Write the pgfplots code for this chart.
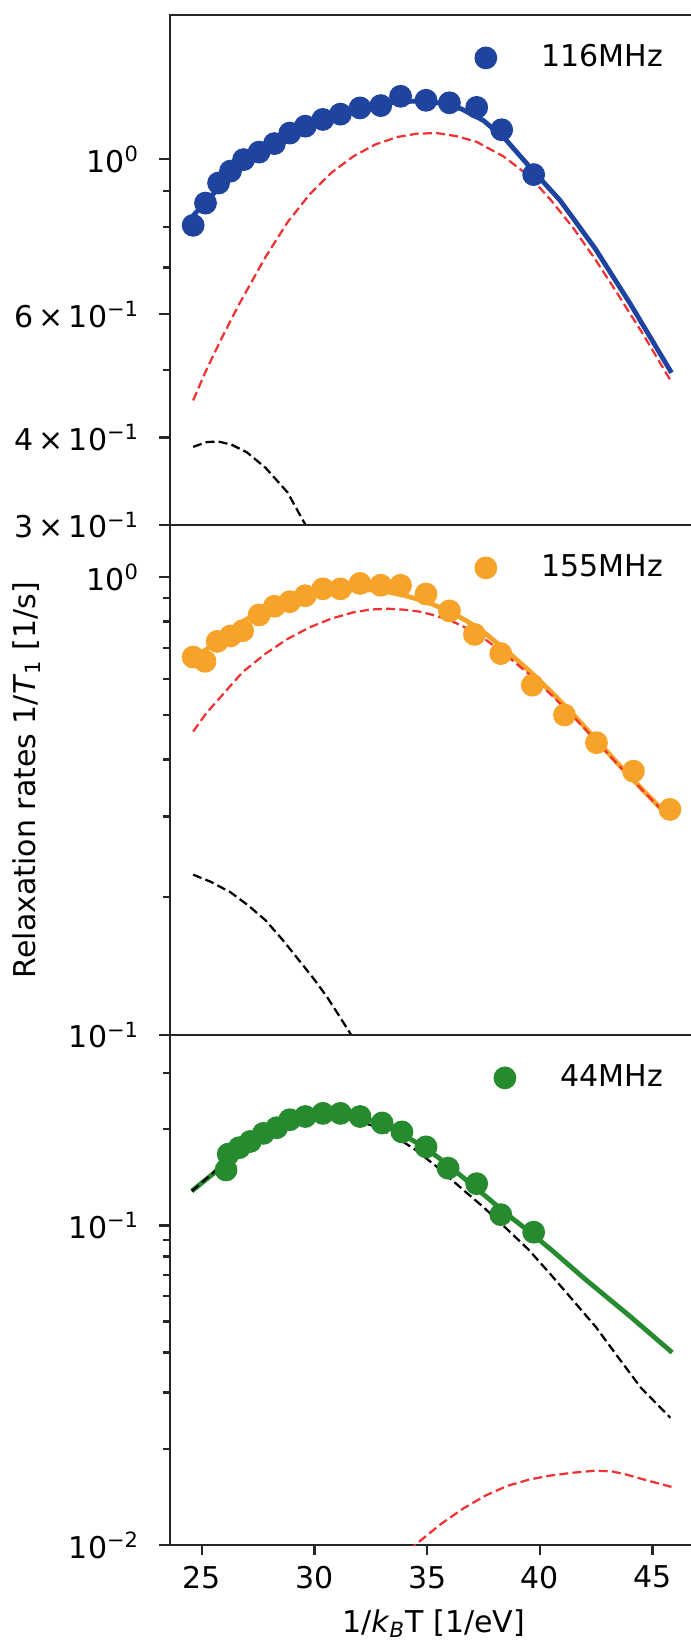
\documentclass[border=0pt]{standalone}
\usepackage{fontspec}
\setmainfont{DejaVu Sans}
\usepackage{pgfplots}
\pgfplotsset{compat=1.18}
\definecolor{cblue}{RGB}{30,68,160}
\definecolor{corange}{RGB}{247,163,42}
\definecolor{cgreen}{RGB}{38,138,46}
\definecolor{cred}{RGB}{240,50,50}
\pgfplotsset{
  mypanel/.style={
    scale only axis, width=175.9pt, height=170pt,
    xmin=23.57, xmax=47.0,
    axis line style={line width=0.8pt, black!85},
    every tick/.style={line width=0.8pt, black!85},
    tick align=outside, tick pos=left,
    major tick length=3.5pt, minor tick length=2.2pt,
    tick label style={font=\fontsize{10}{12}\selectfont},
    yticklabel style={xshift=-3pt},
    legend style={draw=none, fill=none, inner sep=0pt, outer sep=0pt,
      at={(axis description cs:0.935,0.9159)}, anchor=east,
      font=\fontsize{10}{12}\selectfont, nodes={inner sep=0pt}},
  },
  mylinefit/.style={color=#1, line width=1.6pt, forget plot},
  mydash/.style={color=#1, line width=0.75pt, dash pattern=on 3pt off 1.4pt, forget plot},
}
\begin{document}
\begin{tikzpicture}
\useasboundingbox (0,0) rectangle (230.33pt,550pt);
\clip (0,0) rectangle (230.33pt,550pt);
% ---------------- top panel: 116 MHz
\begin{axis}[mypanel, ymode=log, at={(56.57pt,375pt)}, anchor=south west,
  ymin=0.3, ymax=1.606, xtick=\empty,
  ytick={0.3,0.4,0.6,1},
  yticklabels={3\,×\,10\textsuperscript{−1},4\,×\,10\textsuperscript{−1},6\,×\,10\textsuperscript{−1},10\textsuperscript{0}},
  minor ytick={0.5,0.7,0.8,0.9}]
\addplot[only marks, mark=*, color=cblue, mark size=3.6pt,
  legend image code/.code={\path[draw=none,fill=none] (-3.6pt,-3.6pt) rectangle (18.6pt,3.6pt); \fill[cblue] (0pt,0pt) circle (3.6pt);}]
coordinates {
(24.61,0.804) (25.16,0.865) (25.74,0.924) (26.27,0.961) (26.85,0.998)
(27.54,1.023) (28.22,1.052) (28.90,1.089) (29.59,1.114) (30.37,1.139)
(31.15,1.159) (32.02,1.183) (32.94,1.192) (33.82,1.229) (34.95,1.213)
(35.99,1.203) (37.20,1.185) (38.31,1.101) (39.73,0.950)};
\addlegendentry{116MHz}
\addplot[mylinefit=cblue] coordinates {
(24.61,0.830) (25.2,0.870) (25.8,0.912) (26.5,0.955) (27.5,1.010)
(28.5,1.060) (29.5,1.105) (30.5,1.140) (31.5,1.168) (32.5,1.190)
(33.5,1.205) (34.5,1.210) (35.5,1.203) (36.5,1.180) (37.5,1.135)
(38.5,1.065) (39.73,0.960) (40.9,0.873) (42.46,0.745) (44.02,0.621) (45.85,0.495)};
\addplot[mydash=cred] coordinates {
(24.61,0.452) (25.2,0.500) (25.88,0.555) (26.66,0.621) (27.83,0.725)
(28.8,0.812) (29.78,0.890) (30.75,0.956) (31.73,1.009) (32.7,1.049)
(33.68,1.075) (34.55,1.087) (35.44,1.089) (36.3,1.078) (37.2,1.058)
(38.4,1.008) (39.54,0.945) (40.5,0.873) (41.49,0.797) (42.45,0.720)
(43.44,0.643) (44.6,0.561) (45.85,0.480)};
\addplot[mydash=black] coordinates {
(24.61,0.388) (25.2,0.394) (25.7,0.395) (26.3,0.391) (27.0,0.381)
(27.83,0.362) (28.8,0.334) (29.6,0.300) (30.3,0.268)};
\end{axis}
% ---------------- middle panel: 155 MHz
\begin{axis}[mypanel, ymode=log, at={(56.57pt,205pt)}, anchor=south west,
  ymin=0.1, ymax=1.30, xtick=\empty,
  ytick={0.1,1},
  yticklabels={10\textsuperscript{−1},10\textsuperscript{0}},
  minor ytick={0.2,0.3,0.4,0.5,0.6,0.7,0.8,0.9},
  ylabel={Relaxation rates 1/\textit{T}\textsubscript{1} [1/s]},
  every axis y label/.style={at={(axis description cs:-0.2704,0.5)}, rotate=90,
    anchor=center, font=\fontsize{10}{12}\selectfont}]
\addplot[only marks, mark=*, color=corange, mark size=3.6pt,
  legend image code/.code={\path[draw=none,fill=none] (-3.6pt,-3.6pt) rectangle (18.6pt,3.6pt); \fill[corange] (0pt,0pt) circle (3.6pt);}]
coordinates {
(24.61,0.669) (25.14,0.655) (25.68,0.724) (26.27,0.744) (26.81,0.764)
(27.54,0.827) (28.22,0.864) (28.90,0.884) (29.59,0.911) (30.37,0.943)
(31.15,0.943) (32.02,0.969) (32.94,0.960) (33.82,0.960) (34.95,0.919)
(35.99,0.844) (37.10,0.750) (38.27,0.681) (39.67,0.581) (41.10,0.500)
(42.52,0.435) (44.16,0.377) (45.78,0.311)};
\addlegendentry{155MHz}
\addplot[mylinefit=corange] coordinates {
(24.61,0.668) (25.2,0.695) (25.88,0.740) (26.8,0.800) (27.83,0.850)
(28.8,0.885) (29.78,0.910) (30.75,0.929) (31.73,0.938) (32.5,0.938)
(33.29,0.928) (34.0,0.912) (34.66,0.893) (35.3,0.870) (36.02,0.841)
(36.8,0.800) (37.59,0.753) (38.55,0.689) (39.54,0.624) (40.5,0.562)
(41.49,0.501) (42.45,0.445) (43.44,0.393) (44.6,0.342) (45.85,0.296)};
\addplot[mydash=cred] coordinates {
(24.61,0.460) (25.2,0.505) (25.88,0.551) (26.8,0.620) (27.83,0.681)
(28.8,0.733) (29.78,0.777) (30.75,0.812) (31.73,0.838) (32.5,0.850)
(33.29,0.853) (34.0,0.849) (34.66,0.841) (35.3,0.826) (36.02,0.805)
(36.8,0.772) (37.59,0.731) (38.55,0.673) (39.54,0.613) (40.5,0.554)
(41.49,0.496) (42.45,0.442) (43.44,0.391) (44.6,0.341) (45.85,0.295)};
\addplot[mydash=black] coordinates {
(24.61,0.224) (25.4,0.216) (26.27,0.205) (27.05,0.192) (27.83,0.178)
(28.6,0.161) (29.39,0.144) (30.0,0.132) (30.56,0.121) (31.1,0.110)
(31.63,0.100) (32.2,0.090)};
\end{axis}
% ---------------- bottom panel: 44 MHz
\begin{axis}[mypanel, ymode=log, at={(56.57pt,35pt)}, anchor=south west,
  ymin=0.01, ymax=0.394,
  xtick={25,30,35,40,45}, xticklabels={25,30,35,40,45},
  ytick={0.01,0.1},
  yticklabels={10\textsuperscript{−2},10\textsuperscript{−1}},
  minor ytick={0.02,0.03,0.04,0.05,0.06,0.07,0.08,0.09,0.2,0.3},
  xlabel={1/\textit{k}\textsubscript{\textit{B}}T [1/eV]},
  xlabel style={font=\fontsize{10}{12}\selectfont}]
\addplot[only marks, mark=*, color=cgreen, mark size=3.6pt,
  legend image code/.code={\path[draw=none,fill=none] (-3.6pt,-3.6pt) rectangle (18.6pt,3.6pt); \fill[cgreen] (0pt,0pt) circle (3.6pt);}]
coordinates {
(26.07,0.149) (26.17,0.167) (26.66,0.175) (27.15,0.183) (27.73,0.194)
(28.32,0.202) (28.90,0.214) (29.59,0.219) (30.37,0.224) (31.15,0.224)
(32.02,0.219) (33.00,0.209) (33.88,0.196) (34.95,0.176) (35.93,0.151)
(37.20,0.135) (38.27,0.108) (39.73,0.0952)};
\addlegendentry{44MHz}
\addplot[mylinefit=cgreen] coordinates {
(24.55,0.128) (25.5,0.145) (26.5,0.168) (27.5,0.188) (28.5,0.204)
(29.5,0.216) (30.5,0.222) (31.5,0.221) (32.5,0.213) (33.5,0.200)
(34.5,0.182) (35.5,0.163) (36.5,0.143) (37.5,0.125) (38.5,0.109)
(39.5,0.096) (40.5,0.084) (42.0,0.068) (44.0,0.052) (45.88,0.040)};
\addplot[mydash=black] coordinates {
(24.55,0.128) (25.5,0.146) (26.5,0.167) (27.5,0.186) (28.5,0.201)
(29.5,0.212) (30.5,0.217) (31.5,0.215) (32.5,0.206) (33.5,0.191)
(34.5,0.172) (35.5,0.151) (36.5,0.131) (37.5,0.114) (38.5,0.098)
(39.5,0.084) (40.5,0.070) (41.5,0.058) (42.5,0.048) (43.5,0.0385)
(44.5,0.031) (45.8,0.025)};
\addplot[mydash=cred] coordinates {
(33.0,0.0078) (34.46,0.0100) (35.63,0.01166) (36.6,0.0130) (37.59,0.01428)
(38.55,0.0153) (39.54,0.01603) (40.5,0.0165) (41.49,0.01684) (42.46,0.01708)
(43.2,0.0170) (43.83,0.01662) (44.8,0.0159) (45.85,0.01520)};
\end{axis}
\end{tikzpicture}
\end{document}
